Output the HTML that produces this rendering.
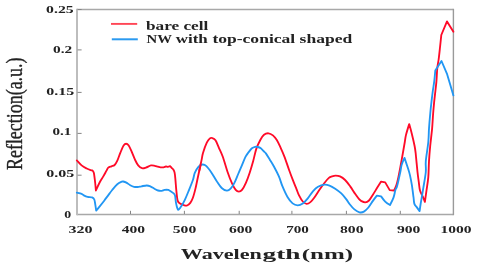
<!DOCTYPE html>
<html><head><meta charset="utf-8"><style>
html,body{margin:0;padding:0;background:#fff;width:478px;height:267px;overflow:hidden;}
#w{width:478px;height:267px;}
svg{display:block;font-family:"Liberation Serif",serif;will-change:transform;}
</style></head><body>
<div id="w"><svg width="478" height="267" viewBox="0 0 478 267">
<defs><filter id="b" x="-5%" y="-5%" width="110%" height="110%"><feGaussianBlur stdDeviation="0.4"/></filter></defs>
<rect width="478" height="267" fill="#fff"/>
<path d="M77,9.5 L453.4,9.5" stroke="#a8a8a8" stroke-width="1.4" fill="none"/>
<path d="M77,214.5 L453.4,214.5" stroke="#a8a8a8" stroke-width="1.4" fill="none"/>
<path d="M77,8.8 L77,215.2" stroke="#bdbdbd" stroke-width="2" fill="none"/>
<path d="M453.4,8.8 L453.4,215.2" stroke="#9a9a9a" stroke-width="1.4" fill="none"/>
<path d="M77.5,9.5 L81.6,9.5" stroke="#858585" stroke-width="1" fill="none"/>
<path d="M77.5,49.9 L81.6,49.9" stroke="#858585" stroke-width="1" fill="none"/>
<path d="M77.5,92.4 L81.6,92.4" stroke="#858585" stroke-width="1" fill="none"/>
<path d="M77.5,133.4 L81.6,133.4" stroke="#858585" stroke-width="1" fill="none"/>
<path d="M77.5,175.2 L81.6,175.2" stroke="#858585" stroke-width="1" fill="none"/>
<path d="M130.5,214 L130.5,210.8" stroke="#858585" stroke-width="1" fill="none"/>
<path d="M184.4,214 L184.4,210.8" stroke="#858585" stroke-width="1" fill="none"/>
<path d="M239.2,214 L239.2,210.8" stroke="#858585" stroke-width="1" fill="none"/>
<path d="M291.9,214 L291.9,210.8" stroke="#858585" stroke-width="1" fill="none"/>
<path d="M346.4,214 L346.4,210.8" stroke="#858585" stroke-width="1" fill="none"/>
<path d="M400.3,214 L400.3,210.8" stroke="#858585" stroke-width="1" fill="none"/>
<path d="M76.80,160.40 C77.60,161.23 79.95,164.05 81.60,165.40 C83.25,166.75 85.20,167.72 86.70,168.50 C88.20,169.28 89.63,169.77 90.60,170.10 C91.57,170.43 92.50,170.50 92.50,170.50 C92.50,170.50 93.48,171.82 93.80,172.80 C94.12,173.78 94.17,174.70 94.40,176.40 C94.63,178.10 94.95,180.65 95.20,183.00 C95.45,185.35 95.90,190.50 95.90,190.50 C95.90,190.50 98.27,185.05 99.50,182.70 C100.73,180.35 102.13,178.42 103.30,176.40 C104.47,174.38 105.67,172.07 106.50,170.60 C107.33,169.13 107.47,168.32 108.30,167.60 C109.13,166.88 110.45,166.73 111.50,166.30 C112.55,165.87 113.65,165.90 114.60,165.00 C115.55,164.10 116.23,162.97 117.20,160.90 C118.17,158.83 119.33,155.15 120.40,152.60 C121.47,150.05 122.65,147.08 123.60,145.60 C124.55,144.12 125.25,143.70 126.10,143.70 C126.95,143.70 127.75,144.22 128.70,145.60 C129.65,146.98 130.75,149.65 131.80,152.00 C132.85,154.35 133.93,157.47 135.00,159.70 C136.07,161.93 137.03,163.98 138.20,165.40 C139.37,166.82 140.72,167.83 142.00,168.20 C143.28,168.57 144.40,168.07 145.90,167.60 C147.40,167.13 149.52,165.70 151.00,165.40 C152.48,165.10 153.67,165.60 154.80,165.80 C155.93,166.00 156.83,166.35 157.80,166.60 C158.77,166.85 159.63,167.18 160.60,167.30 C161.57,167.42 162.72,167.43 163.60,167.30 C164.48,167.17 165.20,166.57 165.90,166.50 C166.60,166.43 167.10,166.95 167.80,166.90 C168.50,166.85 170.10,166.20 170.10,166.20 C170.10,166.20 171.07,167.23 171.60,167.80 C172.13,168.37 172.80,168.80 173.30,169.60 C173.80,170.40 174.25,170.98 174.60,172.60 C174.95,174.22 175.12,176.37 175.40,179.30 C175.68,182.23 175.93,186.68 176.30,190.20 C176.67,193.72 176.97,198.17 177.60,200.40 C178.23,202.63 179.05,202.80 180.10,203.60 C181.15,204.40 182.73,204.88 183.90,205.20 C185.07,205.52 186.03,205.88 187.10,205.50 C188.17,205.12 189.33,204.18 190.30,202.90 C191.27,201.62 192.05,200.13 192.90,197.80 C193.75,195.47 194.63,192.03 195.40,188.90 C196.17,185.77 196.80,182.27 197.50,179.00 C198.20,175.73 198.88,172.65 199.60,169.30 C200.32,165.95 201.23,161.63 201.80,158.90 C202.37,156.17 202.17,155.60 203.00,152.90 C203.83,150.20 205.65,145.12 206.80,142.70 C207.95,140.28 209.00,139.18 209.90,138.40 C210.80,137.62 211.27,137.68 212.20,138.00 C213.13,138.32 214.38,138.67 215.50,140.30 C216.62,141.93 217.68,145.05 218.90,147.80 C220.12,150.55 221.38,152.85 222.80,156.80 C224.22,160.75 225.90,167.15 227.40,171.50 C228.90,175.85 230.42,179.83 231.80,182.90 C233.18,185.97 234.52,188.45 235.70,189.90 C236.88,191.35 237.85,191.60 238.90,191.60 C239.95,191.60 240.83,191.35 242.00,189.90 C243.17,188.45 244.62,185.77 245.90,182.90 C247.18,180.03 248.48,176.35 249.70,172.70 C250.92,169.05 252.10,164.97 253.20,161.00 C254.30,157.03 255.12,152.40 256.30,148.90 C257.48,145.40 259.02,142.35 260.30,140.00 C261.58,137.65 262.63,135.92 264.00,134.80 C265.37,133.68 267.02,133.20 268.50,133.30 C269.98,133.40 271.52,134.28 272.90,135.40 C274.28,136.52 275.52,137.95 276.80,140.00 C278.08,142.05 279.33,144.93 280.60,147.70 C281.87,150.47 282.98,152.88 284.40,156.60 C285.82,160.32 287.68,166.07 289.10,170.00 C290.52,173.93 291.67,177.02 292.90,180.20 C294.13,183.38 295.50,186.62 296.50,189.10 C297.50,191.58 297.85,193.03 298.90,195.10 C299.95,197.17 301.52,200.05 302.80,201.50 C304.08,202.95 305.33,203.70 306.60,203.80 C307.87,203.90 309.13,203.12 310.40,202.10 C311.67,201.08 312.72,199.72 314.20,197.70 C315.68,195.68 317.60,192.45 319.30,190.00 C321.00,187.55 322.80,185.02 324.40,183.00 C326.00,180.98 327.63,179.00 328.90,177.90 C330.17,176.80 330.88,176.78 332.00,176.40 C333.12,176.02 334.27,175.60 335.60,175.60 C336.93,175.60 338.42,175.67 340.00,176.40 C341.58,177.13 343.40,178.33 345.10,180.00 C346.80,181.67 348.50,184.07 350.20,186.40 C351.90,188.73 353.82,191.88 355.30,194.00 C356.78,196.12 358.08,197.92 359.10,199.10 C360.12,200.28 360.38,200.55 361.40,201.10 C362.42,201.65 363.93,202.50 365.20,202.40 C366.47,202.30 367.72,201.78 369.00,200.50 C370.28,199.22 371.52,196.85 372.90,194.70 C374.28,192.55 375.93,189.78 377.30,187.60 C378.67,185.42 381.10,181.60 381.10,181.60 C381.10,181.60 385.20,182.40 385.20,182.40 C385.20,182.40 389.70,190.10 389.70,190.10 C389.70,190.10 394.10,190.50 394.10,190.50 C394.10,190.50 395.78,186.93 396.50,184.70 C397.22,182.47 397.77,179.97 398.40,177.10 C399.03,174.23 399.57,171.43 400.30,167.50 C401.03,163.57 402.05,157.75 402.80,153.50 C403.55,149.25 404.27,145.10 404.80,142.00 C405.33,138.90 405.27,137.88 406.00,134.90 C406.73,131.92 409.20,124.10 409.20,124.10 C409.20,124.10 410.90,130.05 411.80,133.70 C412.70,137.35 413.95,142.70 414.60,146.00 C415.25,149.30 415.22,149.17 415.70,153.50 C416.18,157.83 416.98,167.22 417.50,172.00 C418.02,176.78 418.38,179.12 418.80,182.20 C419.22,185.28 419.37,188.17 420.00,190.50 C420.63,192.83 421.78,194.30 422.60,196.20 C423.42,198.10 424.90,201.90 424.90,201.90 C424.90,201.90 425.83,195.23 426.40,191.10 C426.97,186.97 427.87,182.10 428.30,177.10 C428.73,172.10 428.68,166.28 429.00,161.10 C429.32,155.92 429.68,151.42 430.20,146.00 C430.72,140.58 431.62,133.93 432.10,128.60 C432.58,123.27 432.75,118.48 433.10,114.00 C433.45,109.52 433.80,105.70 434.20,101.70 C434.60,97.70 435.13,93.33 435.50,90.00 C435.87,86.67 436.10,85.37 436.40,81.70 C436.70,78.03 436.92,71.78 437.30,68.00 C437.68,64.22 438.25,62.42 438.70,59.00 C439.15,55.58 439.57,51.50 440.00,47.50 C440.43,43.50 441.30,35.00 441.30,35.00 C441.30,35.00 447.00,21.40 447.00,21.40 C447.00,21.40 452.33,30.07 453.40,31.80" stroke="#ff0a28" stroke-width="1.85" fill="none" stroke-linejoin="round" stroke-linecap="round"/>
<path d="M76.80,192.60 C77.60,192.80 80.43,193.35 81.60,193.80 C82.77,194.25 82.80,194.80 83.80,195.30 C84.80,195.80 86.22,196.45 87.60,196.80 C88.98,197.15 90.98,196.95 92.10,197.40 C93.22,197.85 93.77,198.30 94.30,199.50 C94.83,200.70 94.98,202.75 95.30,204.60 C95.62,206.45 96.20,210.60 96.20,210.60 C96.20,210.60 97.77,208.75 99.10,207.10 C100.43,205.45 102.72,202.62 104.20,200.70 C105.68,198.78 106.67,197.38 108.00,195.60 C109.33,193.82 110.65,191.88 112.20,190.00 C113.75,188.12 115.70,185.68 117.30,184.30 C118.90,182.92 120.82,182.17 121.80,181.70 C122.78,181.23 122.43,181.35 123.20,181.50 C123.97,181.65 125.23,181.98 126.40,182.60 C127.57,183.22 128.93,184.50 130.20,185.20 C131.47,185.90 132.73,186.50 134.00,186.80 C135.27,187.10 136.55,187.08 137.80,187.00 C139.05,186.92 140.00,186.55 141.50,186.30 C143.00,186.05 145.27,185.45 146.80,185.50 C148.33,185.55 149.43,186.07 150.70,186.60 C151.97,187.13 153.17,188.05 154.40,188.70 C155.63,189.35 156.87,190.15 158.10,190.50 C159.33,190.85 160.73,190.90 161.80,190.80 C162.87,190.70 163.43,190.07 164.50,189.90 C165.57,189.73 168.20,189.80 168.20,189.80 C168.20,189.80 170.08,190.90 171.00,191.50 C171.92,192.10 173.02,192.67 173.70,193.40 C174.38,194.13 174.72,194.33 175.10,195.90 C175.48,197.47 175.60,200.67 176.00,202.80 C176.40,204.93 177.03,207.57 177.50,208.70 C177.97,209.83 178.15,210.03 178.80,209.60 C179.45,209.17 180.43,207.63 181.40,206.10 C182.37,204.57 183.43,202.83 184.60,200.40 C185.77,197.97 187.02,194.90 188.40,191.50 C189.78,188.10 191.83,183.10 192.90,180.00 C193.97,176.90 193.85,175.13 194.80,172.90 C195.75,170.67 197.32,168.00 198.60,166.60 C199.88,165.20 201.20,164.58 202.50,164.50 C203.80,164.42 204.90,164.73 206.40,166.10 C207.90,167.47 209.80,170.22 211.50,172.70 C213.20,175.18 214.90,178.45 216.60,181.00 C218.30,183.55 220.00,186.40 221.70,188.00 C223.40,189.60 225.32,190.48 226.80,190.60 C228.28,190.72 229.33,189.98 230.60,188.70 C231.87,187.42 233.13,185.35 234.40,182.90 C235.67,180.45 236.93,176.97 238.20,174.00 C239.47,171.03 240.77,167.98 242.00,165.10 C243.23,162.22 244.48,158.87 245.60,156.70 C246.72,154.53 247.65,153.50 248.70,152.10 C249.75,150.70 250.83,149.17 251.90,148.30 C252.97,147.43 254.13,147.12 255.10,146.90 C256.07,146.68 256.75,146.77 257.70,147.00 C258.65,147.23 259.75,147.55 260.80,148.30 C261.85,149.05 263.15,150.65 264.00,151.50 C264.85,152.35 264.95,152.08 265.90,153.40 C266.85,154.72 268.38,157.27 269.70,159.40 C271.02,161.53 272.27,163.37 273.80,166.20 C275.33,169.03 277.47,173.07 278.90,176.40 C280.33,179.73 280.97,182.77 282.40,186.20 C283.83,189.63 285.80,194.13 287.50,197.00 C289.20,199.87 290.90,202.02 292.60,203.40 C294.30,204.78 296.00,205.30 297.70,205.30 C299.40,205.30 301.12,204.57 302.80,203.40 C304.48,202.23 306.12,200.32 307.80,198.30 C309.48,196.28 311.20,193.22 312.90,191.30 C314.60,189.38 316.08,187.90 318.00,186.80 C319.92,185.70 322.48,184.90 324.40,184.70 C326.32,184.50 327.70,184.93 329.50,185.60 C331.30,186.27 333.23,187.40 335.20,188.70 C337.17,190.00 339.43,191.62 341.30,193.40 C343.17,195.18 345.07,197.68 346.40,199.40 C347.73,201.12 347.97,202.03 349.30,203.70 C350.63,205.37 352.70,207.97 354.40,209.40 C356.10,210.83 357.92,211.93 359.50,212.30 C361.08,212.67 362.42,212.40 363.90,211.60 C365.38,210.80 366.90,209.28 368.40,207.50 C369.90,205.72 371.48,202.87 372.90,200.90 C374.32,198.93 376.90,195.70 376.90,195.70 C376.90,195.70 381.10,196.40 381.10,196.40 C381.10,196.40 383.72,200.17 385.20,201.60 C386.68,203.03 390.00,205.00 390.00,205.00 C390.00,205.00 392.60,200.10 393.50,197.60 C394.40,195.10 394.80,191.93 395.40,190.00 C396.00,188.07 396.28,189.00 397.10,186.00 C397.92,183.00 399.55,175.52 400.30,172.00 C401.05,168.48 400.90,167.25 401.60,164.90 C402.30,162.55 404.50,157.90 404.50,157.90 C404.50,157.90 408.30,169.30 408.30,169.30 C408.30,169.30 409.42,172.83 410.00,175.40 C410.58,177.97 411.22,181.07 411.80,184.70 C412.38,188.33 413.07,194.00 413.50,197.20 C413.93,200.40 413.87,202.25 414.40,203.90 C414.93,205.55 415.83,205.90 416.70,207.10 C417.57,208.30 419.60,211.10 419.60,211.10 C419.60,211.10 420.28,206.12 420.70,203.50 C421.12,200.88 421.68,197.88 422.10,195.40 C422.52,192.92 422.58,192.50 423.20,188.60 C423.82,184.70 425.37,176.58 425.80,172.00 C426.23,167.42 425.38,166.10 425.80,161.10 C426.22,156.10 427.77,147.42 428.30,142.00 C428.83,136.58 428.67,133.43 429.00,128.60 C429.33,123.77 429.88,117.48 430.30,113.00 C430.72,108.52 431.08,105.37 431.50,101.70 C431.92,98.03 432.35,94.33 432.80,91.00 C433.25,87.67 433.78,85.12 434.20,81.70 C434.62,78.28 435.30,70.50 435.30,70.50 C435.30,70.50 441.50,61.00 441.50,61.00 C441.50,61.00 446.90,73.60 446.90,73.60 C446.90,73.60 452.32,91.77 453.40,95.40" stroke="#2196f3" stroke-width="1.85" fill="none" stroke-linejoin="round" stroke-linecap="round"/>
<path d="M199.2,171 L200.1,167.2 L200.9,163.5" stroke="#ff0a28" stroke-width="1.85" fill="none" stroke-linecap="butt"/>
<path d="M111,23.9 L137.2,23.9" stroke="#ff4656" stroke-width="1.9" fill="none"/>
<path d="M111.8,39.3 L137.8,39.3" stroke="#2b9af0" stroke-width="2" fill="none"/>
<g filter="url(#b)">
<text x="146" y="30.1" font-family="Liberation Serif" font-weight="bold" fill="#222" font-size="11.6" textLength="62.3" lengthAdjust="spacingAndGlyphs">bare cell</text>
<text x="146.6" y="43.2" font-family="Liberation Serif" font-weight="bold" fill="#222" font-size="11.8" textLength="25.4" lengthAdjust="spacingAndGlyphs">NW</text>
<text x="175.8" y="43.2" font-family="Liberation Serif" font-weight="bold" fill="#222" font-size="11.8" textLength="32" lengthAdjust="spacingAndGlyphs">with</text>
<text x="212.4" y="43.2" font-family="Liberation Serif" font-weight="bold" fill="#222" font-size="11.8" textLength="139.8" lengthAdjust="spacingAndGlyphs">top-conical shaped</text>
<text x="46.1" y="12.8" font-family="Liberation Serif" font-weight="bold" fill="#222" font-size="11.2" textLength="27.5" lengthAdjust="spacingAndGlyphs">0.25</text>
<text x="53" y="53.3" font-family="Liberation Serif" font-weight="bold" fill="#222" font-size="11.2" textLength="19.2" lengthAdjust="spacingAndGlyphs">0.2</text>
<text x="46.3" y="94.9" font-family="Liberation Serif" font-weight="bold" fill="#222" font-size="11.2" textLength="28.0" lengthAdjust="spacingAndGlyphs">0.15</text>
<text x="52.6" y="135.4" font-family="Liberation Serif" font-weight="bold" fill="#222" font-size="11.2" textLength="18.8" lengthAdjust="spacingAndGlyphs">0.1</text>
<text x="46.3" y="176.9" font-family="Liberation Serif" font-weight="bold" fill="#222" font-size="11.2" textLength="28.0" lengthAdjust="spacingAndGlyphs">0.05</text>
<text x="64.3" y="217.6" font-family="Liberation Serif" font-weight="bold" fill="#222" font-size="11.2" textLength="6.9" lengthAdjust="spacingAndGlyphs">0</text>
<text x="68.5" y="233.2" font-family="Liberation Serif" font-weight="bold" fill="#222" font-size="11.2" textLength="24.0" lengthAdjust="spacingAndGlyphs">320</text>
<text x="121.7" y="233.2" font-family="Liberation Serif" font-weight="bold" fill="#222" font-size="11.2" textLength="23.3" lengthAdjust="spacingAndGlyphs">400</text>
<text x="172.8" y="233.2" font-family="Liberation Serif" font-weight="bold" fill="#222" font-size="11.2" textLength="23.4" lengthAdjust="spacingAndGlyphs">500</text>
<text x="228.9" y="233.2" font-family="Liberation Serif" font-weight="bold" fill="#222" font-size="11.2" textLength="23.4" lengthAdjust="spacingAndGlyphs">600</text>
<text x="286.2" y="233.2" font-family="Liberation Serif" font-weight="bold" fill="#222" font-size="11.2" textLength="22.6" lengthAdjust="spacingAndGlyphs">700</text>
<text x="340" y="233.2" font-family="Liberation Serif" font-weight="bold" fill="#222" font-size="11.2" textLength="23.5" lengthAdjust="spacingAndGlyphs">800</text>
<text x="397" y="233.2" font-family="Liberation Serif" font-weight="bold" fill="#222" font-size="11.2" textLength="23.4" lengthAdjust="spacingAndGlyphs">900</text>
<text x="440.6" y="233.2" font-family="Liberation Serif" font-weight="bold" fill="#222" font-size="11.2" textLength="31.0" lengthAdjust="spacingAndGlyphs">1000</text>
<text x="180.8" y="258.7" font-family="Liberation Serif" font-weight="bold" fill="#222" font-size="15.5" textLength="81" lengthAdjust="spacingAndGlyphs">Wavelen</text>
<text x="262.5" y="258.7" font-family="Liberation Serif" font-weight="bold" fill="#222" font-size="15.5" textLength="38" lengthAdjust="spacingAndGlyphs">gth</text>
<text x="301.8" y="258.7" font-family="Liberation Serif" font-weight="bold" fill="#222" font-size="15.5" textLength="51.3" lengthAdjust="spacingAndGlyphs">(nm)</text>
<text transform="translate(21.7,170) rotate(-90)" x="0" y="0" font-family="Liberation Serif" fill="#222" stroke="#222" stroke-width="0.35" font-size="23" textLength="112.5" lengthAdjust="spacingAndGlyphs">Reflection(a.u.)</text>
</g>
</svg>
</div></body></html>
